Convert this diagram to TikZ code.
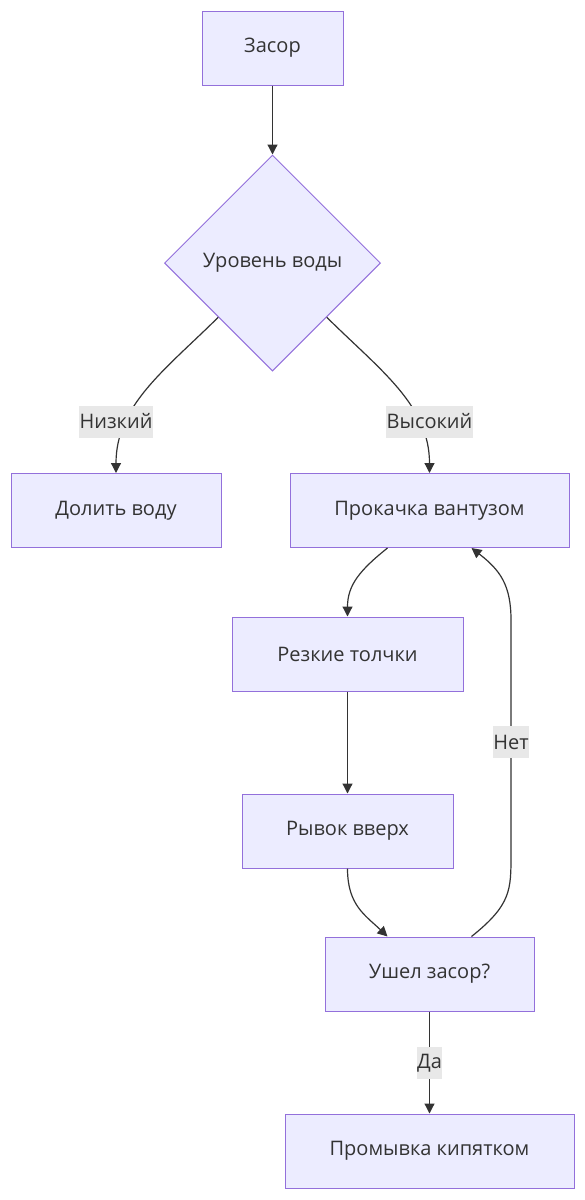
\documentclass[tikz,border=0pt]{standalone}
\usepackage{fontspec}
\setmainfont{Open Sans}
\usetikzlibrary{shapes.geometric,arrows.meta,calc}
\definecolor{nodefill}{HTML}{ECECFF}
\definecolor{nodeborder}{HTML}{9370DB}
\definecolor{linecol}{HTML}{333333}
\definecolor{labelbg}{HTML}{E8E8E8}
\tikzset{
  box/.style={draw=nodeborder, fill=nodefill, line width=1pt, text=linecol, font=\fontsize{20}{24}\selectfont, inner sep=0pt, minimum height=74pt},
  dia/.style={draw=nodeborder, fill=nodefill, line width=1pt, text=linecol, font=\fontsize{20}{24}\selectfont, diamond, inner sep=0pt, minimum width=216pt, minimum height=216pt},
  lbl/.style={fill=labelbg, text=linecol, font=\fontsize{20}{24}\selectfont, inner xsep=0.5pt, inner ysep=0pt, minimum height=32pt},
  conn/.style={draw=linecol, line width=1.2pt, -{Triangle[length=10pt,width=10pt]}},
  connplain/.style={draw=linecol, line width=1.2pt}
}
\begin{document}
\begin{tikzpicture}[x=1pt,y=-1pt]
\useasboundingbox (0,0) rectangle (585,1200);
\node[box, minimum width=141pt] (zasor) at (272.5,48) {Засор};
\node[dia] (lvl) at (272.5,263) {Уровень воды};
\node[box, minimum width=210pt] (dolit) at (116,510.5) {Долить воду};
\node[box, minimum width=279pt] (prok) at (429.5,510.5) {Прокачка вантузом};
\node[box, minimum width=231pt] (rez) at (347.5,654) {Резкие толчки};
\node[box, minimum width=211pt] (ryv) at (347.5,831) {Рывок вверх};
\node[box, minimum width=209pt] (ush) at (429.5,974) {Ушел засор?};
\node[box, minimum width=289pt] (prom) at (429.5,1151) {Промывка кипятком};

\coordinate (lsw) at ($(lvl.south)!0.5!(lvl.west)$);
\coordinate (lse) at ($(lvl.south)!0.5!(lvl.east)$);

\draw[conn] (zasor.south) -- (lvl.north);
\draw[conn] (lsw) .. controls (165,370) and (116,405) .. (dolit.north -| 116,0);
\draw[conn] (lse) .. controls (380,370) and (429.5,405) .. (prok.north);
\draw[conn] ($(prok.south)+(-42,0)$) .. controls (360,570) and (347.5,585) .. (rez.north);
\draw[conn] (rez.south) -- (ryv.south |- ryv.north);
\draw[conn] (ryv.south) .. controls (347.5,905) and (365,915) .. ($(ush.north)+(-42,0)$);
\draw[conn] ($(ush.north)+(42,0)$) .. controls (511,905) and (511,890) .. (511,855) -- (511,620) .. controls (511,585) and (500,570) .. ($(prok.south)+(42,0)$);
\draw[conn] (ush.south) -- (prom.north);

\node[lbl] (lnizk) at (116,421.5) {Низкий};
\node[lbl] (lvys) at (429.5,421.5) {Высокий};
\node[lbl] (lnet) at (511,742) {Нет};
\node[lbl] (lda) at (429.5,1063) {Да};
\end{tikzpicture}
\end{document}
